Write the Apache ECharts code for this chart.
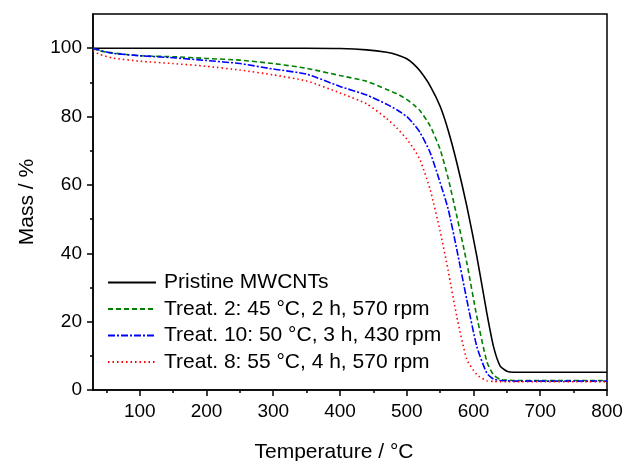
<!DOCTYPE html>
<html>
<head>
<meta charset="utf-8">
<script src="https://cdn.jsdelivr.net/npm/echarts@6/dist/echarts.min.js"></script>
<style>
  html, body { margin: 0; padding: 0; background: #fff; }
  #chart { width: 624px; height: 461px; }
</style>
</head>
<body>
<div id="chart"></div>
<script>
// TGA curves
const temps = [30, 40, 60, 100, 150, 200, 250, 300, 350, 400, 440, 470, 485, 500, 510, 520, 535, 550, 562, 575, 590, 605, 620, 630, 640, 650, 660, 700, 750, 800]
const pristine = [100, 100, 100, 100, 100, 100, 100, 100, 100, 99.9, 99.5, 98.8, 98.1, 96.9, 95.4, 93.3, 89.0, 83.0, 76.0, 66.5, 53.8, 39.1, 22.5, 12.7, 7.0, 5.5, 5.2, 5.2, 5.2, 5.2]
const treat2 = [100, 99.2, 98.6, 97.8, 97.5, 97.0, 96.5, 95.5, 94.1, 92.0, 90.3, 87.9, 86.7, 85.0, 83.5, 81.7, 77.3, 70.4, 62.0, 50.9, 37.2, 21.5, 8.3, 4.4, 3.1, 2.9, 2.8, 2.8, 2.8, 2.8]
const treat10 = [100, 99.4, 98.5, 97.8, 97.2, 96.4, 95.5, 93.9, 92.4, 88.8, 86.3, 83.6, 82.0, 80.0, 77.9, 75.3, 69.5, 60.7, 53.0, 41.1, 26.4, 12.7, 4.9, 3.2, 2.8, 2.7, 2.6, 2.6, 2.6, 2.6]
const treat8 = [99.3, 98.2, 97.1, 96.2, 95.5, 94.7, 93.6, 92.2, 90.4, 86.9, 83.7, 79.4, 76.7, 73.4, 70.7, 67.3, 58.7, 46.5, 35.0, 21.5, 9.0, 4.5, 2.7, 2.5, 2.4, 2.4, 2.4, 2.4, 2.4, 2.4]

const xMajor = [100, 200, 300, 400, 500, 600, 700, 800]
const xMinor = [50, 150, 250, 350, 450, 550, 650, 750]
const yMajor = [0, 20, 40, 60, 80, 100]
const yMinor = [10, 30, 50, 70, 90]

const font = "'Liberation Sans', Arial, sans-serif"

const chart = echarts.init(document.getElementById('chart'))

function pairs (vals) {
  return temps.map((t, i) => [t, vals[i]])
}

function line (name, vals, color, type) {
  return {
    name: name,
    type: 'line',
    data: pairs(vals),
    symbol: 'none',
    smooth: 0.2,
    lineStyle: { color: color, width: 1.6, type: type },
    itemStyle: { color: color }
  }
}

chart.setOption({
  animation: false,
  textStyle: { fontFamily: font },
  grid: {
    left: 93,
    right: 17,
    top: 14,
    bottom: 71,
    outerBoundsMode: 'none',
    show: true,
    borderColor: '#000',
    borderWidth: 1.5
  },
  legend: {
    orient: 'vertical',
    left: 107,
    top: 272,
    padding: 0,
    itemWidth: 48,
    itemHeight: 14,
    itemGap: 5.5,
    itemStyle: { opacity: 0 },
    textStyle: { fontSize: 21, color: '#000', fontFamily: font, padding: [0, 0, 0, 3] }
  },
  xAxis: [
    {
      type: 'value',
      min: 30,
      max: 800,
      name: 'Temperature / °C',
      nameLocation: 'middle',
      nameGap: 52,
      nameTextStyle: { fontSize: 21, color: '#000', padding: [0, 32, 0, 0] },
      axisLine: { show: true, onZero: false, lineStyle: { color: '#000', width: 1.5 } },
      axisTick: { show: true, customValues: xMajor, length: 6, lineStyle: { color: '#000', width: 1.5 } },
      axisLabel: { customValues: xMajor, fontSize: 19, color: '#000', margin: 12 },
      splitLine: { show: false }
    },
    {
      type: 'value',
      min: 30,
      max: 800,
      position: 'bottom',
      axisLine: { show: false },
      axisTick: { show: true, customValues: xMinor, length: 3, lineStyle: { color: '#000', width: 1.5 } },
      axisLabel: { show: false },
      splitLine: { show: false }
    }
  ],
  yAxis: [
    {
      type: 'value',
      min: 0,
      max: 110,
      name: 'Mass / %',
      nameLocation: 'middle',
      nameGap: 55,
      nameTextStyle: { fontSize: 21, color: '#000' },
      axisLine: { show: true, onZero: false, lineStyle: { color: '#000', width: 1.5 } },
      axisTick: { show: true, customValues: yMajor, length: 6, lineStyle: { color: '#000', width: 1.5 } },
      axisLabel: { customValues: yMajor, fontSize: 19, color: '#000', margin: 11 },
      splitLine: { show: false }
    },
    {
      type: 'value',
      min: 0,
      max: 110,
      position: 'left',
      axisLine: { show: false },
      axisTick: { show: true, customValues: yMinor, length: 3, lineStyle: { color: '#000', width: 1.5 } },
      axisLabel: { show: false },
      splitLine: { show: false }
    }
  ],
  series: [
    line('Pristine MWCNTs', pristine, '#000000', 'solid'),
    line('Treat. 2: 45 °C, 2 h, 570 rpm', treat2, '#008000', [5, 3]),
    line('Treat. 10: 50 °C, 3 h, 430 rpm', treat10, '#0000ff', [7, 2, 2, 2]),
    line('Treat. 8: 55 °C, 4 h, 570 rpm', treat8, '#ff0000', [1.5, 3])
  ]
})
</script>
</body>
</html>
